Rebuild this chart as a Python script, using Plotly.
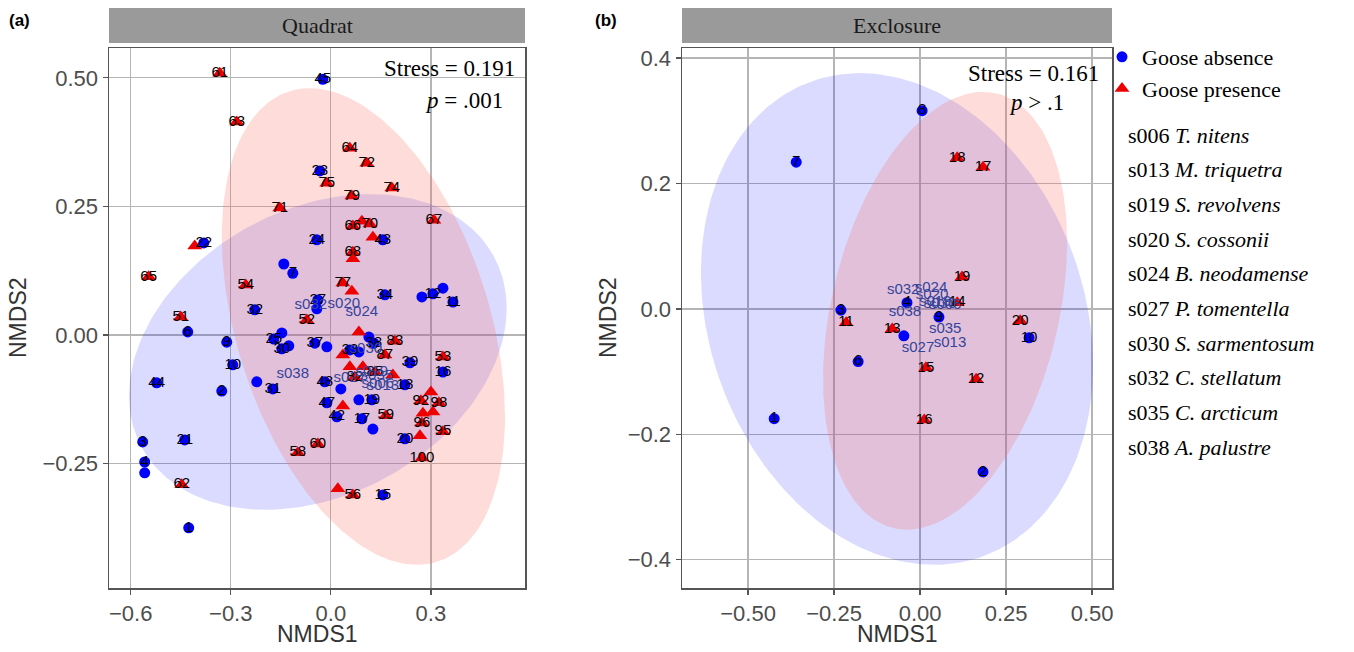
import numpy as np
import plotly.graph_objects as go

SERIF = "Liberation Serif, Times New Roman, serif"
SANS = "Liberation Sans, Arial, sans-serif"

# ---------------- Panel (a) Quadrat ----------------
qa_abs_label = ["45", "23", "24", "43", "34", "", "12", "", "11", "27", "", "", "38", "37", "",
                "33", "", "39", "16", "18", "48", "", "19", "", "47", "42", "17", "", "20", "15",
                "3", "21", "4", "", "1", "22", "", "7", "32", "6", "9", "25", "", "30", "", "10",
                "", "44", "2", "31"]
qa_abs_x = [-0.024, -0.033, -0.042, 0.156, 0.162, 0.273, 0.306, 0.336, 0.366, -0.039, -0.042, 0.114,
            0.129, -0.048, -0.012, 0.057, 0.084, 0.237, 0.336, 0.222, -0.018, 0.030, 0.123, 0.084,
            -0.012, 0.018, 0.093, 0.126, 0.222, 0.156, -0.564, -0.438, -0.558, -0.558, -0.426,
            -0.381, -0.141, -0.114, -0.228, -0.429, -0.312, -0.171, -0.147, -0.147, -0.126, -0.294,
            -0.222, -0.522, -0.327, -0.174]
qa_abs_y = [0.497, 0.319, 0.185, 0.185, 0.078, 0.074, 0.080, 0.091, 0.064, 0.068, 0.051, -0.004,
            -0.016, -0.016, -0.023, -0.029, -0.033, -0.054, -0.072, -0.097, -0.091, -0.105, -0.126,
            -0.126, -0.132, -0.159, -0.163, -0.183, -0.202, -0.311, -0.208, -0.204, -0.247, -0.268,
            -0.375, 0.179, 0.138, 0.120, 0.049, 0.006, -0.014, -0.008, 0.004, -0.027, -0.021, -0.058,
            -0.091, -0.093, -0.109, -0.105]

qa_pre_label = ["61", "63", "64", "72", "75", "74", "79", "71", "67", "66", "70", "", "", "68", "",
                "77", "", "52", "", "83", "87", "", "53", "", "", "85", "82", "", "", "92", "98", "",
                "59", "", "", "96", "95", "", "100", "60", "58", "56", "", "62", "", "65", "54", "51"]
qa_pre_x = [-0.333, -0.282, 0.057, 0.108, -0.012, 0.183, 0.063, -0.153, 0.309, 0.066, 0.117, 0.093,
            0.126, 0.066, 0.066, 0.036, 0.063, -0.072, 0.084, 0.192, 0.162, 0.036, 0.336, 0.057,
            0.096, 0.132, 0.072, 0.186, 0.300, 0.270, 0.324, 0.036, 0.165, 0.276, 0.306, 0.273,
            0.336, 0.267, 0.273, -0.039, -0.099, 0.066, 0.021, -0.447, -0.408, -0.546, -0.255, -0.450]
qa_pre_y = [0.509, 0.414, 0.363, 0.334, 0.295, 0.286, 0.270, 0.247, 0.223, 0.212, 0.216, 0.221,
            0.190, 0.161, 0.148, 0.101, 0.085, 0.029, 0.006, -0.012, -0.039, -0.039, -0.043, -0.062,
            -0.062, -0.072, -0.082, -0.078, -0.111, -0.128, -0.132, -0.138, -0.157, -0.152, -0.150,
            -0.171, -0.188, -0.196, -0.239, -0.212, -0.229, -0.311, -0.299, -0.291, 0.173, 0.113,
            0.097, 0.035]

qa_sp_label = ["s032", "s020", "s024", "s038", "s030", "s027", "s035", "s019", "s006", "s013"]
qa_sp_x = [-0.060, 0.039, 0.093, -0.114, 0.105, 0.057, 0.138, 0.123, 0.141, 0.156]
qa_sp_y = [0.058, 0.060, 0.045, -0.076, -0.027, -0.085, -0.080, -0.072, -0.095, -0.099]

# ellipse parameters: centre x, centre y, var x, cov xy, var y  (absence, presence)
qa_ell_cx = [-0.039, 0.0975]
qa_ell_cy = [-0.033, 0.0165]
qa_ell_sxx = [0.3204, 0.1802]
qa_ell_sxy = [0.048, -0.0744]
qa_ell_syy = [0.0942, 0.2147]

# ---------------- Panel (b) Exclosure ----------------
ex_abs_label = ["8", "7", "3", "4", "", "6", "9", "10", "1", "2"]
ex_abs_x = [0.006, -0.360, -0.230, -0.038, -0.047, -0.180, 0.055, 0.317, -0.424, 0.183]
ex_abs_y = [0.316, 0.234, -0.002, 0.010, -0.043, -0.084, -0.013, -0.046, -0.175, -0.260]

ex_pre_label = ["18", "17", "19", "11", "13", "14", "20", "15", "12", "16"]
ex_pre_x = [0.108, 0.183, 0.122, -0.215, -0.081, 0.108, 0.291, 0.017, 0.163, 0.012]
ex_pre_y = [0.241, 0.226, 0.051, -0.022, -0.032, 0.010, -0.019, -0.094, -0.112, -0.177]

ex_sp_label = ["s032", "s024", "s020", "s030", "s019", "s006", "s038", "s035", "s027", "s013"]
ex_sp_x = [-0.049, 0.032, 0.035, 0.058, 0.044, 0.073, -0.044, 0.073, -0.006, 0.087]
ex_sp_y = [0.029, 0.033, 0.022, 0.008, 0.010, 0.006, -0.005, -0.032, -0.062, -0.054]

ex_ell_cx = [-0.067, 0.0727]
ex_ell_cy = [-0.016, -0.003]
ex_ell_sxx = [0.3249, 0.1258]
ex_ell_sxy = [-0.0422, 0.0385]
ex_ell_syy = [0.1537, 0.1218]

# ---------------- axes / text ----------------
qa_xtick_vals = [-0.6, -0.3, 0.0, 0.3]
qa_xtick_text = ["\u22120.6", "\u22120.3", "0.0", "0.3"]
qa_ytick_vals = [0.50, 0.25, 0.00, -0.25]
qa_ytick_text = ["0.50", "0.25", "0.00", "\u22120.25"]
qa_xrange = [-0.665, 0.582]
qa_yrange = [-0.492, 0.558]

ex_xtick_vals = [-0.50, -0.25, 0.00, 0.25, 0.50]
ex_xtick_text = ["\u22120.50", "\u22120.25", "0.00", "0.25", "0.50"]
ex_ytick_vals = [0.4, 0.2, 0.0, -0.2, -0.4]
ex_ytick_text = ["0.4", "0.2", "0.0", "\u22120.2", "\u22120.4"]
ex_xrange = [-0.692, 0.558]
ex_yrange = [-0.445, 0.416]

panel_titles = ["Quadrat", "Exclosure"]
panel_tags = ["(a)", "(b)"]
stress_text = ["Stress = 0.191", "Stress = 0.161"]
p_text = ["<i>p</i> = .001", "<i>p</i> > .1"]
group_names = ["Goose absence", "Goose presence"]
species_codes = ["s006", "s013", "s019", "s020", "s024", "s027", "s030", "s032", "s035", "s038"]
species_names = ["T. nitens", "M. triquetra", "S. revolvens", "S. cossonii", "B. neodamense",
                 "P. tomentella", "S. sarmentosum", "C. stellatum", "C. arcticum", "A. palustre"]

BLUE = "#0000FF"
RED = "#EE0000"
SPCOL = "#33449A"
ELL_FILL = ["rgba(0,0,255,0.14)", "rgba(250,110,100,0.24)"]

W, H = 1354, 652


def ellipse_xy(cx, cy, sxx, sxy, syy, n=240):
    cov = np.array([[sxx, sxy], [sxy, syy]])
    L = np.linalg.cholesky(cov)
    t = np.linspace(0, 2 * np.pi, n)
    pts = L @ np.vstack([np.cos(t), np.sin(t)])
    return cx + pts[0], cy + pts[1]


fig = go.Figure()

panels = [
    dict(xa="x", ya="y", abs=(qa_abs_label, qa_abs_x, qa_abs_y), pre=(qa_pre_label, qa_pre_x, qa_pre_y),
         sp=(qa_sp_label, qa_sp_x, qa_sp_y), ell=(qa_ell_cx, qa_ell_cy, qa_ell_sxx, qa_ell_sxy, qa_ell_syy),
         legend=True),
    dict(xa="x2", ya="y2", abs=(ex_abs_label, ex_abs_x, ex_abs_y), pre=(ex_pre_label, ex_pre_x, ex_pre_y),
         sp=(ex_sp_label, ex_sp_x, ex_sp_y), ell=(ex_ell_cx, ex_ell_cy, ex_ell_sxx, ex_ell_sxy, ex_ell_syy),
         legend=False),
]

for p in panels:
    cx, cy, sxx, sxy, syy = p["ell"]
    for g in range(2):
        ex, ey = ellipse_xy(cx[g], cy[g], sxx[g], sxy[g], syy[g])
        fig.add_trace(go.Scatter(x=ex, y=ey, mode="lines", fill="toself", fillcolor=ELL_FILL[g],
                                 line=dict(width=0), hoverinfo="skip", showlegend=False,
                                 xaxis=p["xa"], yaxis=p["ya"]))
    lab, xs, ys = p["abs"]
    fig.add_trace(go.Scatter(x=xs, y=ys, mode="markers", name=group_names[0],
                             marker=dict(symbol="circle", size=11, color=BLUE),
                             showlegend=p["legend"], xaxis=p["xa"], yaxis=p["ya"]))
    lab2, xs2, ys2 = p["pre"]
    fig.add_trace(go.Scatter(x=xs2, y=ys2, mode="markers", name=group_names[1],
                             marker=dict(symbol="triangle-up", size=13, color=RED),
                             showlegend=p["legend"], xaxis=p["xa"], yaxis=p["ya"]))
    for (l, xx, yy) in (p["abs"], p["pre"]):
        fig.add_trace(go.Scatter(x=xx, y=yy, mode="text", text=l, textposition="middle center",
                                 textfont=dict(family=SANS, size=15, color="black"),
                                 showlegend=False, hoverinfo="skip", xaxis=p["xa"], yaxis=p["ya"]))
    sl, sx, sy = p["sp"]
    fig.add_trace(go.Scatter(x=sx, y=sy, mode="text", text=sl, textposition="middle center",
                             textfont=dict(family=SANS, size=15, color=SPCOL),
                             showlegend=False, hoverinfo="skip", xaxis=p["xa"], yaxis=p["ya"]))

ydom = [1 - 588 / H, 1 - 48 / H]
xdom_a = [109 / W, 525 / W]
xdom_b = [682 / W, 1112 / W]

axis_common = dict(showgrid=True, gridcolor="#B5B5B5", gridwidth=1.2, zeroline=False,
                   showline=True, mirror=True, linecolor="#555555", linewidth=1.5,
                   ticks="outside", ticklen=5, tickwidth=1.2, tickcolor="#555555",
                   tickfont=dict(family=SANS, size=22, color="#4D4D4D"), automargin=False,
                   fixedrange=True)

fig.update_layout(
    width=W, height=H,
    margin=dict(l=0, r=0, t=0, b=0),
    paper_bgcolor="white", plot_bgcolor="white",
    xaxis=dict(domain=xdom_a, range=qa_xrange, tickvals=qa_xtick_vals, ticktext=qa_xtick_text,
               anchor="y", **axis_common),
    yaxis=dict(domain=ydom, range=qa_yrange, tickvals=qa_ytick_vals, ticktext=qa_ytick_text,
               anchor="x", **axis_common),
    xaxis2=dict(domain=xdom_b, range=ex_xrange, tickvals=ex_xtick_vals, ticktext=ex_xtick_text,
                anchor="y2", **axis_common),
    yaxis2=dict(domain=ydom, range=ex_yrange, tickvals=ex_ytick_vals, ticktext=ex_ytick_text,
                anchor="x2", **axis_common),
    legend=dict(x=1102 / W, y=1 - 36 / H, xanchor="left", yanchor="top",
                font=dict(family=SERIF, size=22, color="black"), bgcolor="rgba(0,0,0,0)",
                itemsizing="trace", tracegroupgap=0),
    showlegend=True,
)


def ann(x, y, text, size, family, color="black", xanchor="center", angle=0):
    return dict(x=x / W, y=1 - y / H, xref="paper", yref="paper", text=text, showarrow=False,
                xanchor=xanchor, yanchor="middle", textangle=angle,
                font=dict(family=family, size=size, color=color))


shapes = []
annotations = []
for i, dom in enumerate([xdom_a, xdom_b]):
    shapes.append(dict(type="rect", xref="paper", yref="paper", x0=dom[0], x1=dom[1],
                       y0=1 - 43 / H, y1=1 - 8 / H, fillcolor="#9A9A9A", line=dict(width=0)))
    cxp = (dom[0] + dom[1]) / 2 * W
    annotations.append(ann(cxp, 26, panel_titles[i], 22, SERIF, "#1A1A1A"))
    annotations.append(ann(cxp, 634, "NMDS1", 23, SANS, "#333333"))

annotations.append(ann(18, 318, "NMDS2", 23, SANS, "#333333", angle=-90))
annotations.append(ann(608, 318, "NMDS2", 23, SANS, "#333333", angle=-90))
annotations.append(ann(19, 20, "<b>" + panel_tags[0] + "</b>", 17, SANS))
annotations.append(ann(606, 20, "<b>" + panel_tags[1] + "</b>", 17, SANS))

# stress / p annotations
stress_pos = [(517, 69, 505, 100), (1101, 73, 1066, 103)]
for i, (sx_, sy_, px_, py_) in enumerate(stress_pos):
    annotations.append(ann(sx_, sy_, stress_text[i], 23, SERIF, xanchor="right"))
    annotations.append(ann(px_, py_, p_text[i], 23, SERIF, xanchor="right"))

# species list
for i, (c, n) in enumerate(zip(species_codes, species_names)):
    annotations.append(ann(1126, 135 + i * 34.67, c + " <i>" + n + "</i>", 22, SERIF, xanchor="left"))

fig.update_layout(shapes=shapes, annotations=annotations)

fig.write_html("out.html", config={"displayModeBar": False, "staticPlot": True},
               post_script="document.body.style.margin='0';document.body.style.overflow='hidden';")
